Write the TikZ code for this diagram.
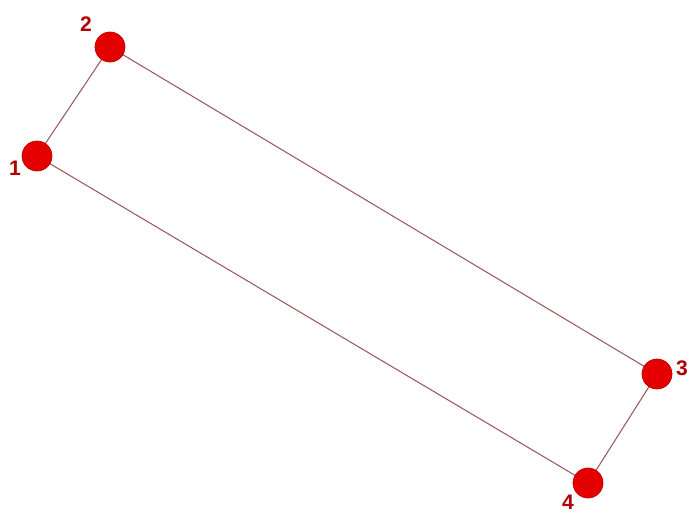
\documentclass[tikz,border=0pt]{standalone}
\usepackage{fontspec}
\setsansfont{Liberation Sans}
\usepackage{tikz}
\usetikzlibrary{positioning}

\begin{document}
\begin{tikzpicture}[
  x=0.02cm,y=-0.02cm,
  font=\sffamily\bfseries\large,
  pt/.style={circle,fill=red!90!black,draw=red!75!black,line width=0.4pt,minimum size=0.6cm,inner sep=0pt},
  edge/.style={line width=0.6pt,draw=red!40!black!65},
  num/.style={text=red!70!black,inner sep=0pt}
]
\useasboundingbox (0,0) rectangle (689,512);

% ---- edges first, dots on top ----
\coordinate (c1) at (37,156);
\coordinate (c2) at (110,47);
\coordinate (c3) at (657,374);
\coordinate (c4) at (588,483);
\draw[edge] (c1) -- (c2) -- (c3) -- (c4) -- cycle;

% ---- corner dots ----
\node[pt] (p1) at (c1) {};
\node[pt] (p2) at (c2) {};
\node[pt] (p3) at (c3) {};
\node[pt] (p4) at (c4) {};

% ---- numbers ----
\node[num] (n1) at (15,168) {1};
\node[num] (n2) at (86,24) {2};
\node[num] (n3) at (682,368) {3};
\node[num] (n4) at (568,502) {4};
\end{tikzpicture}
\end{document}
